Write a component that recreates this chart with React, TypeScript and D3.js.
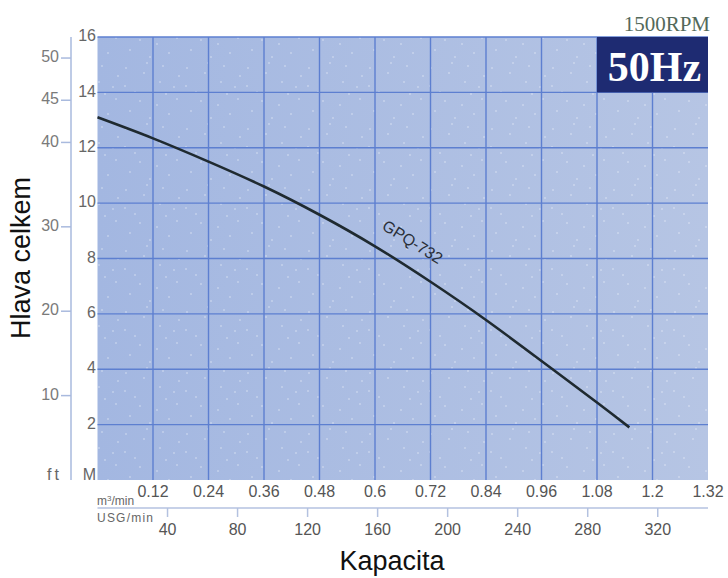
import React from 'react';
import * as d3 from 'd3';

// GPQ-732 pump curve, 1500 RPM / 50 Hz
const flowM3 = [0, 0.12, 0.24, 0.36, 0.48, 0.6, 0.72, 0.84, 0.96, 1.08, 1.15];
const headM = [13.1, 12.34, 11.5, 10.6, 9.58, 8.44, 7.16, 5.78, 4.3, 2.8, 1.9];

const m3Ticks = [0.12, 0.24, 0.36, 0.48, 0.6, 0.72, 0.84, 0.96, 1.08, 1.2, 1.32];
const usgTicks = [40, 80, 120, 160, 200, 240, 280, 320];
const meterTicks = [2, 4, 6, 8, 10, 12, 14, 16];
const feetTicks = [10, 20, 30, 40, 45, 50];

const USG_PER_M3 = 264.172;
const FT_PER_M = 3.28084;

// speckle texture positions inside one pattern tile (decoration only)
const speckles = [
  [4, 7], [13, 31], [22, 12], [35, 44], [41, 5], [52, 26], [8, 50], [28, 57],
  [47, 53], [57, 15], [18, 40], [38, 21], [3, 25], [55, 38], [25, 2], [44, 33],
];

const W = 728;
const H = 578;
const left = 97.5;
const right = 708;
const top = 37;
const bottom = 480;

const App: React.FC = () => {
  const x = d3.scaleLinear().domain([0, 1.32]).range([left, right]);
  const y = d3.scaleLinear().domain([0, 16]).range([bottom, top]);

  const line = d3.line<number>()
    .x((_, i) => x(flowM3[i]))
    .y(d => y(d))
    .curve(d3.curveNatural);

  const gridColor = '#5d7fd0';
  const font = 'Arial, "Liberation Sans", sans-serif';

  return (
    <svg width={W} height={H} style={{ position: 'absolute', left: 0, top: 0, background: '#fff' }}>
      <defs>
        <linearGradient id="bg" x1="0" x2="1" y1="0" y2="0">
          <stop offset="0" stopColor="#a3b7e1" />
          <stop offset="1" stopColor="#b6c5e4" />
        </linearGradient>
        <pattern id="speck" width="61" height="61" patternUnits="userSpaceOnUse">
          {speckles.map(([sx, sy], i) => (
            <circle key={i} cx={sx} cy={sy} r={0.8} fill="#fff" opacity={0.55} />
          ))}
        </pattern>
      </defs>

      {/* plot background */}
      <rect x={left} y={top} width={right - left} height={bottom - top} fill="url(#bg)" />
      <rect x={left} y={top} width={right - left} height={bottom - top} fill="url(#speck)" />

      {/* grid */}
      {meterTicks.map(t => (
        <line key={'h' + t} x1={left} x2={right} y1={y(t)} y2={y(t)} stroke={gridColor} strokeWidth={1.4} />
      ))}
      {m3Ticks.slice(0, -1).map(t => (
        <line key={'v' + t} x1={x(t)} x2={x(t)} y1={top} y2={bottom} stroke={gridColor} strokeWidth={1.4} />
      ))}

      {/* 50Hz badge */}
      <rect x={x(1.08)} y={y(16)} width={right - x(1.08)} height={y(14) - y(16)} fill="#1e2b72" />
      <text x={(x(1.08) + right) / 2 + 2} y={y(14) - 11} textAnchor="middle" fill="#fff"
        fontFamily='"Liberation Serif", "DejaVu Serif", serif' fontWeight="bold" fontSize={42}>50Hz</text>
      <text x={710} y={31} textAnchor="end" fill="#53695a"
        fontFamily='"Liberation Serif", serif' fontSize={21}>1500RPM</text>

      {/* curve */}
      <path d={line(headM) || ''} fill="none" stroke="#1f2a30" strokeWidth={2.6} />
      <text transform={`translate(412,243) rotate(32)`} textAnchor="middle" dominantBaseline="middle"
        fill="#2a2f38" fontFamily={font} fontSize={16}>GPQ-732</text>

      {/* meter axis labels */}
      {meterTicks.map(t => (
        <text key={'m' + t} x={96} y={y(t)} textAnchor="end" dominantBaseline="middle"
          fill="#666" fontFamily={font} fontSize={16}>{t}</text>
      ))}
      <text x={96} y={480} textAnchor="end" fill="#666" fontFamily={font} fontSize={16}>M</text>

      {/* feet axis */}
      <line x1={71} x2={71} y1={top} y2={bottom} stroke="#a9bade" strokeWidth={1.5} />
      {feetTicks.map(t => (
        <g key={'f' + t}>
          <line x1={61} x2={71} y1={y(t / FT_PER_M)} y2={y(t / FT_PER_M)} stroke="#a9bade" strokeWidth={1.5} />
          <text x={59} y={y(t / FT_PER_M)} textAnchor="end" dominantBaseline="middle"
            fill="#7a7a7a" fontFamily={font} fontSize={16}>{t}</text>
        </g>
      ))}
      <text x={62} y={480} textAnchor="end" fill="#666" fontFamily={font} fontSize={16} letterSpacing={3}>ft</text>

      <text transform={`translate(30,258) rotate(-90)`} textAnchor="middle" fill="#111"
        fontFamily={font} fontSize={27}>Hlava celkem</text>

      {/* m3/min axis */}
      {m3Ticks.map(t => (
        <text key={'q' + t} x={x(t)} y={497} textAnchor="middle" fill="#555" fontFamily={font} fontSize={16}>{t}</text>
      ))}
      <text x={97} y={505} fill="#666" fontFamily={font} fontSize={12}>
        m<tspan fontSize={8} dy={-4}>3</tspan><tspan dy={4}>/min</tspan>
      </text>

      {/* USG/min axis */}
      <line x1={left} x2={right} y1={508} y2={508} stroke="#b4c2e0" strokeWidth={1.5} />
      {usgTicks.map(t => (
        <g key={'u' + t}>
          <line x1={x(t / USG_PER_M3)} x2={x(t / USG_PER_M3)} y1={508} y2={517} stroke="#b4c2e0" strokeWidth={1.5} />
          <text x={x(t / USG_PER_M3)} y={535} textAnchor="middle" fill="#555" fontFamily={font} fontSize={16}>{t}</text>
        </g>
      ))}
      <text x={97} y={522} fill="#666" fontFamily={font} fontSize={12} textLength={56}>USG/min</text>

      <text x={392} y={570} textAnchor="middle" fill="#111" fontFamily={font} fontSize={27}>Kapacita</text>
    </svg>
  );
};

export default App;
